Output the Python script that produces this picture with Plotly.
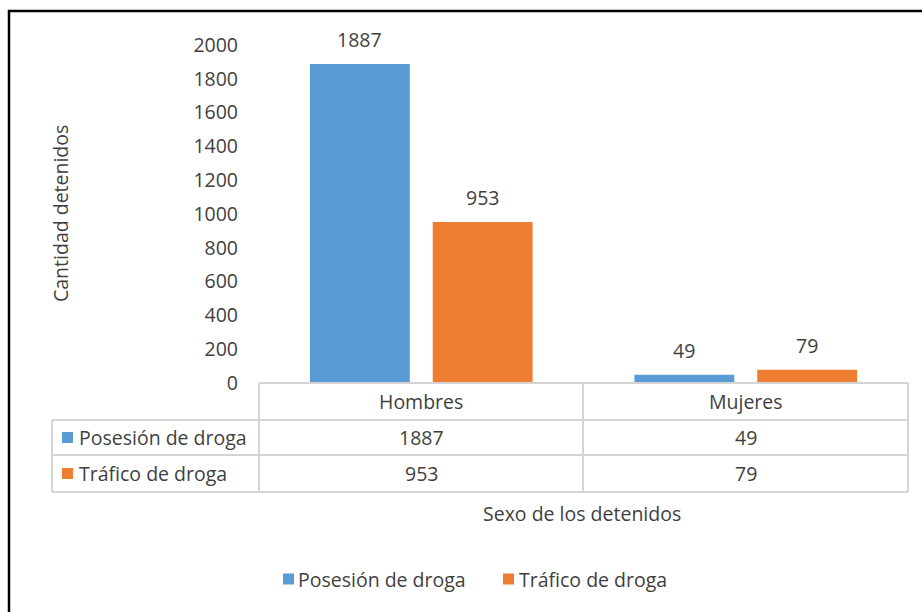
import plotly.graph_objects as go

categories = ["Hombres", "Mujeres"]
series_names = ["Posesión de droga", "Tráfico de droga"]
posesion = [1887, 49]
trafico = [953, 79]
y_ticks = [0, 200, 400, 600, 800, 1000, 1200, 1400, 1600, 1800, 2000]
colors = ["#5B9BD5", "#ED7D31"]

W, H = 922, 612
FONT = "Open Sans"
FS = 19.5
TXT = "#3F3F3F"
GRID = "#D4D4D4"


def px_x(x):
    return x / W


def px_y(y):
    return (H - y) / H


x0_plot, x1_plot = 259, 908
y0_plot, y_top = 383, 45

fig = go.Figure()
values = [posesion, trafico]
for name, vals, col in zip(series_names, values, colors):
    fig.add_trace(go.Bar(
        x=categories, y=vals, name=name, showlegend=False,
        marker=dict(color=col, line=dict(width=0)),
    ))

annotations = []
shapes = []


def label(x, y, text, xanchor="center", **kw):
    d = dict(x=x, y=y, xref="paper", yref="paper", text=text, showarrow=False,
             xanchor=xanchor, yanchor="middle",
             font=dict(family=FONT, size=FS, color=TXT))
    d.update(kw)
    return d


# data labels above bars
offsets = [-61.5, 61.5]
for si, vals in enumerate(values):
    for ci, v in enumerate(vals):
        annotations.append(dict(
            x=categories[ci], y=v, xref="x", yref="y",
            text=str(v), showarrow=False, xshift=offsets[si],
            xanchor="center", yanchor="bottom", yshift=9,
            font=dict(family=FONT, size=FS, color=TXT)))

# data table
row_y = [383, 420, 455, 492]
col_x = [52, 259, 583, 908]
line = dict(color=GRID, width=2)
shapes.append(dict(type="line", xref="paper", yref="paper",
                   x0=px_x(259), x1=px_x(908), y0=px_y(383), y1=px_y(383), line=line))
for yy in row_y[1:]:
    shapes.append(dict(type="line", xref="paper", yref="paper",
                       x0=px_x(52), x1=px_x(908), y0=px_y(yy), y1=px_y(yy), line=line))
for xx in col_x[1:]:
    shapes.append(dict(type="line", xref="paper", yref="paper",
                       x0=px_x(xx), x1=px_x(xx), y0=px_y(383), y1=px_y(492), line=line))
shapes.append(dict(type="line", xref="paper", yref="paper",
                   x0=px_x(52), x1=px_x(52), y0=px_y(420), y1=px_y(492), line=line))

cell_centers = [(col_x[i] + col_x[i + 1]) / 2 for i in range(1, 3)]
for ci, cat in enumerate(categories):
    annotations.append(label(px_x(cell_centers[ci]), px_y((row_y[0] + row_y[1]) / 2), cat))
for si, vals in enumerate(values):
    yc = (row_y[si + 1] + row_y[si + 2]) / 2
    for ci, v in enumerate(vals):
        annotations.append(label(px_x(cell_centers[ci]), px_y(yc), str(v)))
    annotations.append(label(px_x(77), px_y(yc), series_names[si], xanchor="left"))
    shapes.append(dict(type="rect", xref="paper", yref="paper",
                       x0=px_x(62), x1=px_x(73), y0=px_y(yc + 5.5), y1=px_y(yc - 5.5),
                       fillcolor=colors[si], line=dict(width=0)))

# legend (manual)
leg_y = 579
leg_items = [(283, 296), (503, 517)]
for si, (sx, tx) in enumerate(leg_items):
    shapes.append(dict(type="rect", xref="paper", yref="paper",
                       x0=px_x(sx), x1=px_x(sx + 11), y0=px_y(leg_y + 5.5), y1=px_y(leg_y - 5.5),
                       fillcolor=colors[si], line=dict(width=0)))
    annotations.append(label(px_x(tx), px_y(leg_y), series_names[si], xanchor="left"))

# axis titles
annotations.append(label(px_x(582), px_y(513), "Sexo de los detenidos"))
annotations.append(label(px_x(60), px_y(213), "Cantidad detenidos", textangle=-90))

# outer frame
shapes.append(dict(type="rect", xref="paper", yref="paper",
                   x0=px_x(9), x1=1.05, y0=-0.05, y1=px_y(11),
                   line=dict(color="#000000", width=2.5), fillcolor="rgba(0,0,0,0)"))

fig.update_layout(
    width=W, height=H,
    margin=dict(l=0, r=0, t=0, b=0, autoexpand=False),
    paper_bgcolor="white", plot_bgcolor="white",
    barmode="group", bargap=0.243, bargroupgap=0.187,
    font=dict(family=FONT, size=FS, color=TXT),
    showlegend=False,
    xaxis=dict(domain=[px_x(x0_plot), px_x(x1_plot)], showticklabels=False,
               showgrid=False, zeroline=False, showline=False, ticks="", automargin=False),
    yaxis=dict(domain=[px_y(y0_plot), px_y(y_top)], range=[0, 2000],
               tickvals=y_ticks, ticktext=[str(t) for t in y_ticks],
               showgrid=False, zeroline=False, showline=False, ticks="", automargin=False,
               ticklabelstandoff=20, tickfont=dict(family=FONT, size=FS, color=TXT)),
    annotations=annotations, shapes=shapes,
)

fig.write_html("out.html", config={"displayModeBar": False},
               post_script="document.body.style.margin='0';")
